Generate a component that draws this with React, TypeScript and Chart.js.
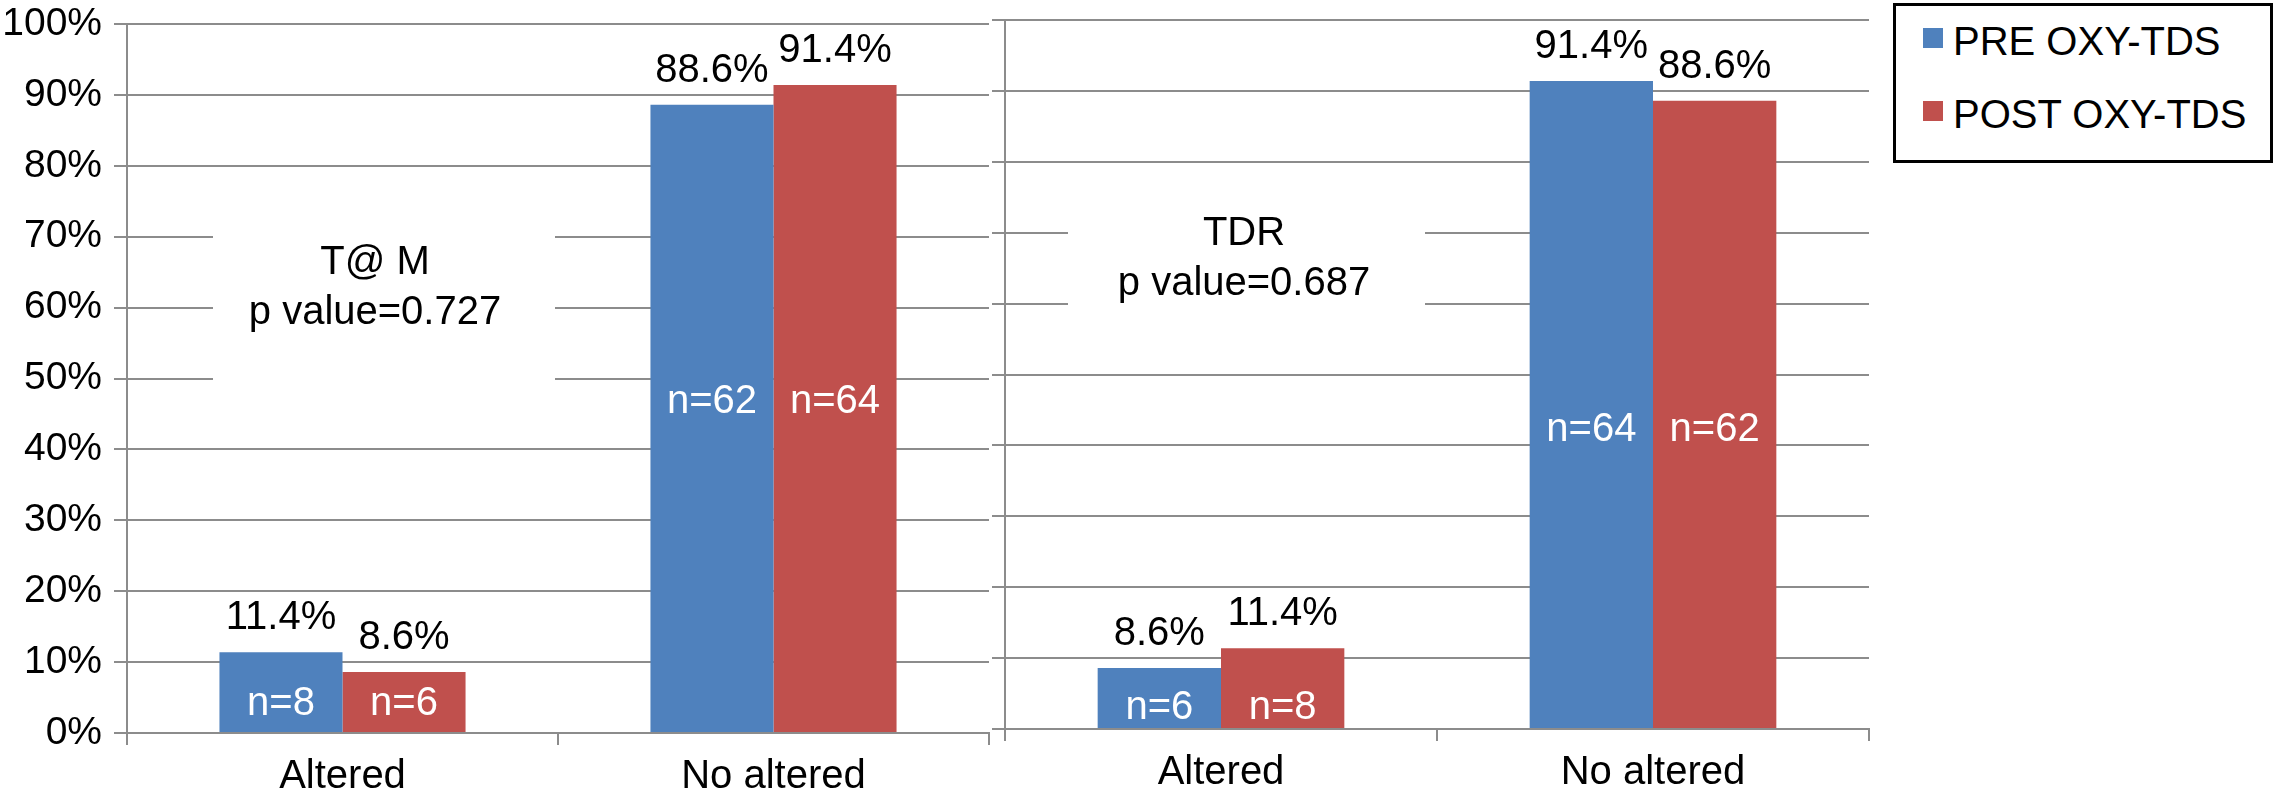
import React, { useEffect, useRef } from "react";
import { Chart, registerables } from "chart.js";

Chart.register(...registerables);

// ---------- data ----------
const categories = ["Altered", "No altered"];
const seriesNames = ["PRE OXY-TDS", "POST OXY-TDS"];
const seriesColors = ["#4F81BD", "#C0504D"];

const tamPre = [11.4, 88.6];
const tamPost = [8.6, 91.4];
const tamCountsPre = ["n=8", "n=62"];
const tamCountsPost = ["n=6", "n=64"];
const tamNote = ["T@ M", "p value=0.727"];

const tdrPre = [8.6, 91.4];
const tdrPost = [11.4, 88.6];
const tdrCountsPre = ["n=6", "n=64"];
const tdrCountsPost = ["n=8", "n=62"];
const tdrNote = ["TDR", "p value=0.687"];

const yMin = 0;
const yMax = 100;
const yStep = 10;

// ---------- style ----------
const FONT = "'Liberation Sans', Arial, Helvetica, sans-serif";
const GRID = "#8c8c8c";

const labelsPlugin = {
  id: "barLabels",
  beforeDatasetsDraw(chart: any, _args: any, opts: any) {
    const { ctx, chartArea } = chart;
    const note = opts.note;
    if (!note) return;
    ctx.save();
    ctx.fillStyle = "#ffffff";
    ctx.fillRect(chartArea.left + note.box[0], chartArea.top + note.box[1], note.box[2], note.box[3]);
    ctx.fillStyle = "#000000";
    ctx.font = `40px ${FONT}`;
    ctx.textAlign = "center";
    ctx.textBaseline = "alphabetic";
    note.lines.forEach((t: string, i: number) => {
      ctx.fillText(t, chartArea.left + note.cx, chartArea.top + note.baseline + i * 50);
    });
    ctx.restore();
  },
  afterDatasetsDraw(chart: any, _args: any, opts: any) {
    const { ctx } = chart;
    const yScale = chart.scales.y;
    const datasets = chart.data.datasets;
    ctx.save();
    ctx.font = `40px ${FONT}`;
    ctx.textAlign = "center";
    ctx.textBaseline = "alphabetic";
    datasets.forEach((ds: any, di: number) => {
      const meta = chart.getDatasetMeta(di);
      meta.data.forEach((bar: any, i: number) => {
        const v = ds.data[i];
        ctx.fillStyle = "#000000";
        ctx.fillText(v.toFixed(1) + "%", bar.x, bar.y - opts.valueGap);
        const mean = datasets.reduce((s: number, d: any) => s + d.data[i], 0) / datasets.length;
        const midY = yScale.getPixelForValue(mean / 2);
        ctx.fillStyle = "#ffffff";
        ctx.fillText(ds.counts[i], bar.x, midY + opts.nOffsets[i]);
      });
    });
    ctx.restore();
  },
};

type Props = {
  pre: number[];
  post: number[];
  preCounts: string[];
  postCounts: string[];
  note: any;
  showYLabels: boolean;
  yWidth: number;
  nOffsets: number[];
  padRight: number;
  width: number;
  height: number;
  left: number;
  top: number;
};

function BarPanel(p: Props) {
  const ref = useRef<HTMLCanvasElement | null>(null);
  useEffect(() => {
    if (!ref.current) return;
    const chart = new Chart(ref.current, {
      type: "bar",
      data: {
        labels: categories,
        datasets: [
          {
            label: seriesNames[0],
            data: p.pre,
            backgroundColor: seriesColors[0],
            borderWidth: 0,
            categoryPercentage: 0.571,
            barPercentage: 1,
            counts: p.preCounts,
          } as any,
          {
            label: seriesNames[1],
            data: p.post,
            backgroundColor: seriesColors[1],
            borderWidth: 0,
            categoryPercentage: 0.571,
            barPercentage: 1,
            counts: p.postCounts,
          } as any,
        ],
      },
      options: {
        animation: false,
        responsive: false,
        maintainAspectRatio: false,
        events: [],
        layout: { padding: { top: 40, right: p.padRight, left: 0, bottom: 0 } },
        plugins: {
          legend: { display: false },
          tooltip: { enabled: false },
          title: { display: false },
          barLabels: { note: p.note, nOffsets: p.nOffsets, valueGap: 23 },
        } as any,
        scales: {
          x: {
            afterFit: (s: any) => {
              s.height = 68;
            },
            grid: {
              offset: true,
              drawOnChartArea: false,
              drawTicks: true,
              tickLength: 12,
              color: GRID,
              lineWidth: 2,
            },
            border: { display: true, color: GRID, width: 2 },
            ticks: {
              color: "#000000",
              padding: 8,
              font: { family: FONT, size: 40 },
              maxRotation: 0,
              autoSkip: false,
            },
          },
          y: {
            min: yMin,
            max: yMax,
            afterFit: (s: any) => {
              s.width = p.yWidth;
            },
            grid: {
              drawOnChartArea: true,
              drawTicks: true,
              tickLength: 13,
              color: GRID,
              lineWidth: 2,
            },
            border: { display: true, color: GRID, width: 2 },
            ticks: {
              display: p.showYLabels,
              stepSize: yStep,
              color: "#000000",
              padding: 12,
              font: { family: FONT, size: 39 },
              callback: (v: any) => v + "%",
            },
          },
        },
      },
      plugins: [labelsPlugin],
    });
    return () => chart.destroy();
  }, []);
  return (
    <canvas
      ref={ref}
      width={p.width}
      height={p.height}
      style={{ position: "absolute", left: p.left, top: p.top, width: p.width, height: p.height }}
    />
  );
}

export default function App() {
  return (
    <div
      style={{
        position: "absolute",
        left: 0,
        top: 0,
        width: 2276,
        height: 801,
        overflow: "hidden",
        background: "#ffffff",
        fontFamily: FONT,
      }}
    >
      <BarPanel
        pre={tamPre}
        post={tamPost}
        preCounts={tamCountsPre}
        postCounts={tamCountsPost}
        note={{ lines: tamNote, box: [86, 176, 342, 200], cx: 248, baseline: 250 }}
        showYLabels={true}
        yWidth={127}
        nOffsets={[17, -1]}
        padRight={11}
        width={1000}
        height={817}
        left={0}
        top={-16}
      />
      <BarPanel
        pre={tdrPre}
        post={tdrPost}
        preCounts={tdrCountsPre}
        postCounts={tdrCountsPost}
        note={{ lines: tdrNote, box: [63, 175, 357, 145], cx: 239, baseline: 225 }}
        showYLabels={false}
        yWidth={45}
        nOffsets={[25, 31]}
        padRight={11}
        width={920}
        height={817}
        left={960}
        top={-20}
      />
      <div
        style={{
          position: "absolute",
          left: 1893,
          top: 3,
          width: 374,
          height: 154,
          border: "3px solid #000",
          background: "#fff",
        }}
      >
        {seriesNames.map((name, i) => (
          <React.Fragment key={name}>
            <div
              style={{
                position: "absolute",
                left: 27,
                top: 22 + i * 73,
                width: 20,
                height: 20,
                background: seriesColors[i],
              }}
            />
            <div
              style={{
                position: "absolute",
                left: 57,
                top: 15 + i * 73,
                fontSize: 40,
                lineHeight: "40px",
                whiteSpace: "nowrap",
                color: "#000",
                fontFamily: FONT,
              }}
            >
              {name}
            </div>
          </React.Fragment>
        ))}
      </div>
    </div>
  );
}
